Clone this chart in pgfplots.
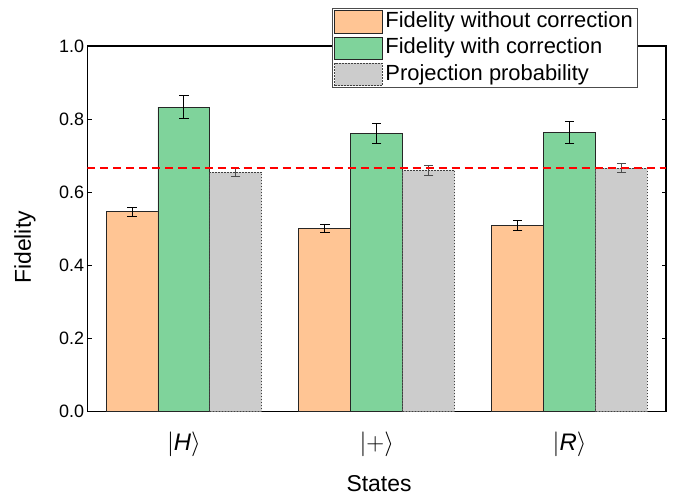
\documentclass[border=0pt]{standalone}
\usepackage{pgfplots}
\pgfplotsset{compat=1.18}
\usepackage{fontspec}
\setmainfont{Liberation Sans}

\definecolor{peach}{RGB}{255,197,148}
\definecolor{mint}{RGB}{127,211,155}
\definecolor{lgray}{RGB}{204,204,204}

\pgfplotsset{
  patch legend/.style={legend image code/.code={%
      \draw[##1] (0bp,-11.2bp) rectangle (47.6bp,11.2bp);}},
}

\begin{document}
\begin{tikzpicture}
\begin{axis}[
    scale only axis,
    width=578.5bp, height=365.5bp,
    xmin=-0.5, xmax=2.5,
    ymin=0, ymax=1,
    xtick={0,1,2},
    xticklabels={{$|$\textit{H}$\rangle$},{$|{+}\rangle$},{$|$\textit{R}$\rangle$}},
    x tick style={draw=none},
    x tick label style={font=\fontsize{24}{28}\selectfont, anchor=base, yshift=-38.5bp},
    ytick={0,0.2,0.4,0.6,0.8,1.0},
    y tick label style={font=\fontsize{18}{21}\selectfont,
        /pgf/number format/.cd, fixed, fixed zerofill, precision=1, assume math mode=true},
    y tick style={line width=0.9bp, black},
    tick align=inside,
    major tick length=4.5bp,
    axis line style={line width=1.1bp},
    xlabel={States},
    ylabel={Fidelity},
    x label style={font=\fontsize{23}{27}\selectfont, at={(axis description cs:0.504,-0.196)}, anchor=center, inner sep=1bp},
    y label style={font=\fontsize{23}{27}\selectfont, at={(axis description cs:-0.108,0.449)}, anchor=center, inner sep=1bp},
    legend cell align=left,
    legend style={
        at={(0.4221,1.1031)}, anchor=north west,
        draw=black!70, line width=0.8bp, fill=white,
        font=\fontsize{22}{25}\selectfont,
        inner xsep=2bp, inner ysep=1.5bp,
        row sep=3bp,
        nodes={inner xsep=2.8bp, inner ysep=0bp, text height=15.5bp, text depth=4.5bp},
    },
    error bars/error bar style={solid, line width=1bp},
    error bars/error mark options={solid, rotate=90, line width=1bp, mark size=4.7bp},
]

% Fidelity without correction (bars sit one bar width left of the state)
\addplot[ybar, bar width=0.269, bar shift=0, fill=peach, draw=black!85, line width=0.9bp,
    patch legend,
    error bars/.cd, y dir=both, y explicit, error bar style={black}]
  coordinates {
    (-0.269,0.546) +- (0,0.013)
    (0.731,0.501) +- (0,0.011)
    (1.731,0.509) +- (0,0.013)
  };
\addlegendentry{Fidelity without correction}

% Fidelity with correction
\addplot[ybar, bar width=0.269, bar shift=0, fill=mint, draw=black!85, line width=0.9bp,
    patch legend,
    error bars/.cd, y dir=both, y explicit, error bar style={black}]
  coordinates {
    (0,0.833) +- (0,0.032)
    (1,0.761) +- (0,0.028)
    (2,0.763) +- (0,0.030)
  };
\addlegendentry{Fidelity with correction}

% Projection probability
\addplot[ybar, bar width=0.269, bar shift=0, fill=lgray, draw=black!75, line width=1bp,
    dash pattern=on 1.5bp off 1.5bp,
    patch legend,
    error bars/.cd, y dir=both, y explicit, error bar style={black!70}]
  coordinates {
    (0.269,0.654) +- (0,0.012)
    (1.269,0.660) +- (0,0.013)
    (2.269,0.666) +- (0,0.013)
  };
\addlegendentry{Projection probability}

% 2/3 reference line
\addplot[red, line width=1.8bp, dash pattern=on 8bp off 5bp, mark=none, forget plot]
  coordinates {(-0.5,0.6667) (2.5,0.6667)};

\end{axis}
\path (current axis.south west) ++(-87.5bp,-84.5bp) rectangle ++(676bp,496bp);
\end{tikzpicture}
\end{document}
